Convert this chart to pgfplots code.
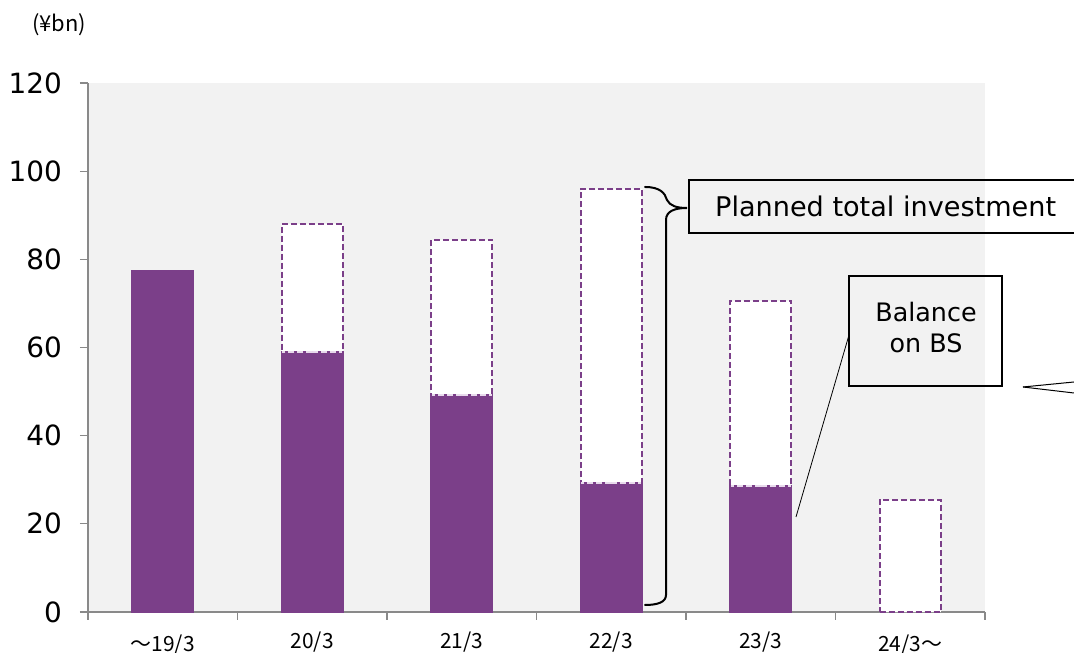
\documentclass[border=0pt]{standalone}
\usepackage{pgfplots}
\pgfplotsset{compat=1.18}
\usepackage{fontspec}
\setmainfont{DejaVu Sans}
\newfontfamily\cjk{Noto Sans CJK JP}
\definecolor{bpurple}{RGB}{123,63,137}
\definecolor{bgray}{RGB}{242,242,242}
\definecolor{agray}{RGB}{137,137,137}
\definecolor{lav}{RGB}{232,218,236}

\begin{document}
\begin{tikzpicture}
\path[use as bounding box] (0,0) rectangle (1074bp,653bp);
\begin{axis}[
  at={(88bp,41bp)}, anchor=south west,
  scale only axis, width=897bp, height=529bp,
  xmin=-0.5, xmax=5.5, ymin=0, ymax=120,
  axis background/.style={fill=bgray},
  axis x line*=bottom, axis y line*=left,
  axis line style={draw=agray, line width=1.2bp},
  tick style={draw=agray, line width=1.2bp},
  tick align=outside, major tick length=8bp,
  /pgf/number format/assume math mode=true,
  ytick={0,20,...,120},
  yticklabel style={font=\fontsize{28}{32}\selectfont, inner sep=0pt, anchor=east, xshift=-18bp},
  xtick={-0.5,0.5,...,5.5}, xticklabels={},
  extra x ticks={0,1,2,3,4,5},
  extra x tick labels={\raisebox{-3bp}{～19/3},20/3,21/3,22/3,23/3,\raisebox{-3bp}{24/3～}},
  extra x tick style={major tick length=0pt,
    xticklabel style={font=\cjk\fontsize{21}{24}\selectfont, anchor=base, inner sep=0pt, yshift=-36bp}},
  clip=false,
]
\addplot[ybar, bar width=0.41, bar shift=0pt, fill=white, draw=bpurple,
  line width=2bp, dash pattern=on 6bp off 3bp]
  coordinates {(1,88.0) (2,84.4) (3,96.0) (4,70.6) (5,25.4)};
\addplot[ybar, bar width=0.41, bar shift=0pt, fill=bpurple, draw=bpurple, line width=2bp]
  coordinates {(0,77.4) (1,59.0) (2,49.2) (3,29.3) (4,28.6)};
\addplot[only marks, mark=*, mark size=0pt, mark options={draw=none, fill=none},
  error bars/.cd, x dir=both, x fixed=0.2, error mark=none,
  error bar style={line width=1.6bp, draw=lav, dash pattern=on 6bp off 3bp}]
  coordinates {(1,59.0) (2,49.2) (3,29.3) (4,28.6)};
\end{axis}

\begin{scope}[x=1bp, y=-1bp, yshift=653bp]
  % unit label
  \node[anchor=base west, inner sep=0pt, font=\cjk\fontsize{22}{26}\selectfont] at (32,32) {(¥bn)};
  % brace
  \draw[line width=2bp, line cap=round] (645,187) .. controls (660,187) and (665,193) .. (667,200)
     .. controls (670,206) and (677,208) .. (687,208)
     .. controls (675,208) and (666,211) .. (666,220) -- (666,595)
     .. controls (666,602) and (658,605) .. (645,605);
  % planned box
  \draw[line width=2bp] (689,180) rectangle (1100,233);
  \node[anchor=base west, inner sep=0pt, font=\fontsize{27.2}{30}\selectfont] at (715,217) {Planned total investment};
  % balance box
  \draw[line width=2.5bp] (849,276) rectangle (1002,386);
  \node[anchor=base, inner sep=0pt, font=\fontsize{25.5}{30}\selectfont] at (926,322) {Balance};
  \node[anchor=base, inner sep=0pt, font=\fontsize{25.5}{30}\selectfont] at (926,353) {on BS};
  \draw[line width=0.8bp] (849,335) -- (796,517);
  \draw[line width=1bp] (1023,387) -- (1074,382);
  \draw[line width=1bp] (1023,387) -- (1074,393);
\end{scope}
\end{tikzpicture}
\end{document}
